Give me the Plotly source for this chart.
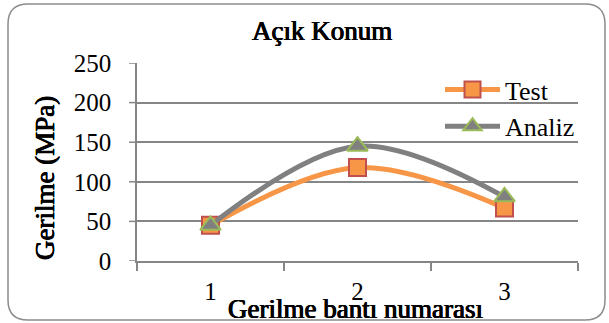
import plotly.graph_objects as go

# Strain gauge numbers and measured / computed stress (MPa)
gauges = ["1", "2", "3"]
test_values = [45, 118, 67]
analysis_values = [45, 145, 81]
stress_ticks = [0, 50, 100, 150, 200, 250]

FONT = "Liberation Serif"
GRID = "#868686"

fig = go.Figure()

fig.add_trace(go.Scatter(
    x=gauges, y=test_values, name="Test",
    mode="lines+markers", line=dict(color="#F79646", width=5, shape="spline"),
    marker=dict(symbol="square", size=17, color="#F79646",
                line=dict(color="#C0504D", width=2)),
))
fig.add_trace(go.Scatter(
    x=gauges, y=analysis_values, name="Analiz",
    mode="lines+markers", line=dict(color="#808080", width=5, shape="spline"),
    marker=dict(symbol="triangle-up", size=18, color="#808080",
                line=dict(color="#9BBB59", width=2)),
))

# plot area in pixels: x 137..578, y 63..261
L, R, T, B = 137, 578, 63, 261
W, H = R - L, B - T


def px(x):
    return (x - L) / W


def py(y):
    return (B - y) / H


# rounded chart border
x0, x1, y0, y1 = px(8), px(605), py(320), py(4)
rx, ry = 20 / W, 20 / H
path = (f"M {x0+rx},{y1} L {x1-rx},{y1} Q {x1},{y1} {x1},{y1-ry} "
        f"L {x1},{y0+ry} Q {x1},{y0} {x1-rx},{y0} "
        f"L {x0+rx},{y0} Q {x0},{y0} {x0},{y0+ry} "
        f"L {x0},{y1-ry} Q {x0},{y1} {x0+rx},{y1} Z")
fig.add_shape(type="path", path=path, xref="paper", yref="paper",
              line=dict(color="#8C8C8C", width=1.5), layer="below")

# short gray tick stubs left of the value axis (the axis ticks themselves
# are kept invisible so that they only push the labels outward)
for v in stress_ticks:
    fig.add_shape(type="line", xref="paper", yref="y",
                  x0=-8 / W, x1=0, y0=v, y1=v,
                  line=dict(color=GRID, width=1.5))

# heavy serif text for the titles (thickened with a tight text shadow)
HEAVY = dict(family=FONT, size=27, color="black",
             shadow="0.6px 0 0 #000, -0.5px 0 0 #000, 0 0.4px 0 #000")
fig.add_annotation(text="Açık Konum", x=px(322), y=py(31),
                   xref="paper", yref="paper", showarrow=False,
                   xanchor="center", yanchor="middle", font=HEAVY)
fig.add_annotation(text="Gerilme (MPa)", x=px(45), y=py(178),
                   xref="paper", yref="paper", showarrow=False, textangle=-90,
                   xanchor="center", yanchor="middle", font=HEAVY)
fig.add_annotation(text="Gerilme bantı numarası", x=px(355), y=py(309),
                   xref="paper", yref="paper", showarrow=False,
                   xanchor="center", yanchor="middle", font=HEAVY)

fig.update_layout(
    width=609, height=323,
    margin=dict(l=L, r=609 - R, t=T, b=323 - B),
    paper_bgcolor="white", plot_bgcolor="white",
    font=dict(family=FONT, size=25, color="black"),
    showlegend=True,
    legend=dict(x=px(440), y=py(66), xanchor="left", yanchor="top",
                bgcolor="rgba(0,0,0,0)", font=dict(family=FONT, size=26),
                tracegroupgap=0, itemwidth=55),
    xaxis=dict(type="category", range=[-0.5, len(gauges) - 0.5],
               tickson="boundaries", showgrid=False,
               showline=True, linecolor=GRID, linewidth=1.5,
               ticks="outside", ticklen=8, tickcolor=GRID, tickwidth=1.5,
               ticklabelstandoff=7, tickfont=dict(family=FONT, size=25),
               zeroline=False),
    yaxis=dict(range=[0, 250], tickvals=stress_ticks,
               showgrid=True, gridcolor=GRID,
               gridwidth=1.5, showline=True, linecolor=GRID, linewidth=1.5,
               ticks="outside", ticklen=19, tickcolor="rgba(0,0,0,0)",
               zeroline=False, tickfont=dict(family=FONT, size=25)),
)

fig.write_html("out.html")
